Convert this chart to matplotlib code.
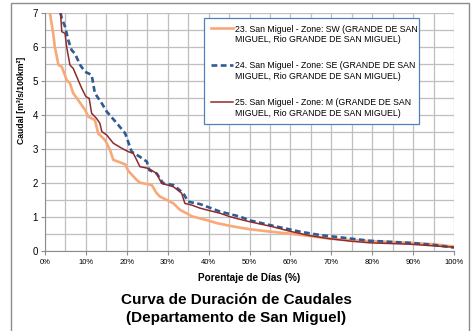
import matplotlib
matplotlib.use("Agg")
import matplotlib.pyplot as plt
from matplotlib.patches import Rectangle
from matplotlib.lines import Line2D
from matplotlib.legend_handler import HandlerLine2D
from matplotlib.ticker import MultipleLocator, FuncFormatter

# curva de duracion, zona SW
pct_sw = [1.2, 2.0, 2.4, 3.3, 4.1, 5.3, 6.1, 6.9, 8.1, 9.8, 10.6, 12.2, 13.0, 14.7, 15.9, 16.7,
          19.6, 20.4, 22.4, 23.2, 26.1, 27.3, 28.1, 29.8, 31.4, 33.0, 34.6, 35.9, 39.5, 42.0,
          45.2, 48.5, 50.1, 55.0, 59.1, 64.8, 69.7, 79.5, 89.2, 95.0, 100]
q_sw = [7.0, 6.4, 6.0, 5.47, 5.42, 5.03, 4.93, 4.64, 4.44, 4.15, 3.95, 3.85, 3.46, 3.26, 2.97, 2.68,
        2.55, 2.35, 2.09, 2.01, 1.94, 1.70, 1.60, 1.50, 1.40, 1.21, 1.11, 1.02, 0.91, 0.82,
        0.74, 0.67, 0.64, 0.57, 0.52, 0.44, 0.36, 0.29, 0.24, 0.20, 0.13]

# zona SE
pct_se = [3.8, 4.1, 4.9, 5.7, 6.5, 7.3, 8.6, 9.8, 11.4, 12.2, 13.9, 15.1, 17.9, 19.6, 21.2, 23.2,
          24.9, 25.5, 27.3, 28.9, 31.4, 33.8, 35.0, 37.9, 42.8, 47.7, 50.1, 55.8, 62.3, 67.2,
          79.5, 89.2, 95.0, 100]
q_se = [7.0, 6.84, 6.6, 6.2, 5.91, 5.81, 5.47, 5.27, 5.18, 4.64, 4.34, 4.10, 3.71, 3.46, 2.92, 2.77,
        2.63, 2.38, 2.28, 1.99, 1.94, 1.70, 1.45, 1.38, 1.16, 1.01, 0.90, 0.74, 0.57, 0.47,
        0.30, 0.24, 0.18, 0.10]

# zona M
pct_m = [3.8, 4.1, 4.9, 5.3, 6.1, 6.9, 8.1, 9.0, 10.0, 10.8, 11.4, 12.6, 13.4, 13.9, 15.1, 16.7,
         18.8, 20.4, 21.6, 22.4, 23.2, 25.3, 27.3, 28.5, 31.4, 33.4, 34.2, 35.9, 37.9, 39.5,
         42.8, 45.2, 47.7, 50.1, 55.8, 59.9, 64.8, 69.7, 74.6, 79.5, 89.2, 100]
q_m = [7.0, 6.45, 6.4, 6.0, 5.47, 5.37, 5.03, 4.78, 4.54, 4.49, 4.05, 3.90, 3.76, 3.51, 3.41, 3.17,
       3.02, 2.92, 2.87, 2.68, 2.48, 2.43, 2.28, 1.99, 1.89, 1.70, 1.40, 1.35, 1.26, 1.21,
       1.11, 1.01, 0.93, 0.86, 0.71, 0.58, 0.45, 0.36, 0.29, 0.24, 0.20, 0.11]

labels = [
    "23. San Miguel - Zone: SW (GRANDE DE SAN\nMIGUEL, Rio GRANDE DE SAN MIGUEL)",
    "24. San Miguel - Zone: SE (GRANDE DE SAN\nMIGUEL, Rio GRANDE DE SAN MIGUEL)",
    "25. San Miguel - Zone: M (GRANDE DE SAN\nMIGUEL, Rio GRANDE DE SAN MIGUEL)",
]


class FirstLineHandler(HandlerLine2D):
    # put the legend line level with the first row of a two-line label
    def create_artists(self, legend, orig_handle, xdescent, ydescent, width, height,
                       fontsize, trans):
        return super().create_artists(legend, orig_handle, xdescent, ydescent - 10,
                                      width, height, fontsize, trans)


plt.rcParams['font.family'] = ['Liberation Sans', 'DejaVu Sans']

fig = plt.figure(figsize=(4.72, 3.31), dpi=100)
fig.patches.append(Rectangle((11 / 472, -0.01), 458 / 472, 1 - 3 / 331 + 0.01,
                             transform=fig.transFigure, fill=False,
                             edgecolor='#8c8c8c', lw=1.0))

ax = fig.add_axes([45 / 472, 80 / 331, 409 / 472, 238 / 331])

ax.plot(pct_sw, q_sw, color='#F9A878', lw=1.9, label=labels[0], zorder=3)
ax.plot(pct_se, q_se, color='#2F5A93', lw=1.9, ls=(0, (2.2, 1.3)), label=labels[1], zorder=4)
ax.plot(pct_m, q_m, color='#8E2B2B', lw=1.1, label=labels[2], zorder=5)

ax.set_xlim(0, 100)
ax.set_ylim(0, 7)
ax.xaxis.set_major_locator(MultipleLocator(10))
ax.xaxis.set_minor_locator(MultipleLocator(5))
ax.yaxis.set_major_locator(MultipleLocator(1))
ax.yaxis.set_minor_locator(MultipleLocator(0.5))
ax.xaxis.set_major_formatter(FuncFormatter(lambda v, p: f"{v:.0f}%"))
ax.grid(True, which='both', color='#bfbfbf', lw=0.9, zorder=0)
ax.set_axisbelow(True)

for s in ['top', 'right']:
    ax.spines[s].set_visible(False)
for s in ['left', 'bottom']:
    ax.spines[s].set_color('#8c8c8c')
ax.tick_params(which='major', length=3, width=0.8, color='#8c8c8c', pad=2)
ax.tick_params(which='minor', length=0)
ax.tick_params(axis='y', labelsize=7)
ax.tick_params(axis='x', labelsize=5.5, pad=3)

leg = ax.legend(loc='upper left', bbox_to_anchor=(0.389, 0.525, 0.525, 0.454), mode='expand',
                fontsize=6.3, frameon=True, fancybox=False, handlelength=2.5,
                handletextpad=0.25, labelspacing=2.0, borderpad=0.75, borderaxespad=0,
                handler_map={Line2D: FirstLineHandler()})
leg.get_frame().set_edgecolor('#4F81BD')
leg.get_frame().set_linewidth(0.9)
leg.get_frame().set_alpha(1)

fig.text(22 / 472, 1 - 100 / 331, "Caudal [m\u00b3/s/100km\u00b2]", rotation=90,
         ha='center', va='center', fontsize=6.2, fontweight='bold')
fig.text(249.5 / 472, 1 - 278 / 331, "Porentaje de Días (%)", ha='center', va='center',
         fontsize=7.2, fontweight='bold')
fig.text(236 / 472, 1 - 309 / 331, "Curva de Duración de Caudales\n(Departamento de San Miguel)",
         ha='center', va='center', fontsize=11, fontweight='bold', linespacing=1.4)

fig.savefig('out.png', dpi=100)
